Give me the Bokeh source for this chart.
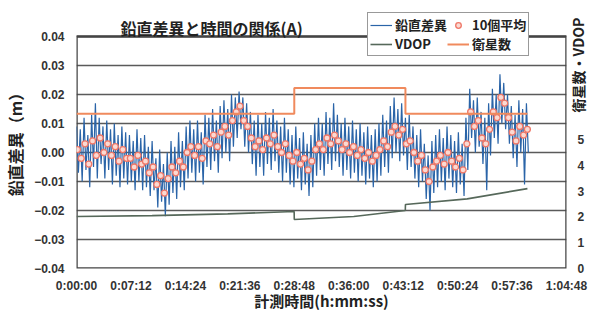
from bokeh.plotting import figure
from bokeh.models import (Range1d, LinearAxis, FixedTicker, CustomJSTickFormatter,
                          Legend, LegendItem, Label)
from bokeh.embed import file_html
from bokeh.resources import INLINE
import math

# ---------------- data ----------------
# 10-point average of vertical difference (mm), one value every 30 s
avg_step_s = 30
avg_mm = [1, -2, 3, -4, 4, -1, 5, 0, 3, -1,
          2, -3, 1, -2, -2, -5, -1, -4, -3, -7,
          -5, -11, -8, -14, -9, -5, -7, -3, -5, 0,
          2, -1, 2, -2, 4, 3, 6, 2, 7, 9,
          6, 11, 14, 16, 11, 9, 5, 2, 4, 1,
          5, 3, 6, 2, 0, 3, -1, -3, 0, -4,
          -2, -6, -3, 1, 3, 1, 5, 3, 6, 4,
          1, 3, 0, 2, -1, 1, -2, 0, -3, -1,
          1, 4, 2, 7, 9, 6, 8, 3, 4, 0,
          -3, -1, -6, -10, -5, -3, -1, -4, 0, -3,
          -5, -2, -6, 3, 14, 9, 11, 5, 3, 8,
          14, 12, 19, 17, 12, 7, 4, 9, 6, 8]

# raw vertical difference (mm), one value every 15 s
raw_step_s = 15
raw_mm = [9, -7, 8, -10, 12, -6, 6, -12, 13, -5, 17, -9, 12, -4, 9, -9, 11, -6, 8, -11,
          10, -8, 6, -12, 9, -9, 7, -11, 6, -10, 4, -13, 8, -10, 5, -13, 6, -12, 2, -15,
          4, -13, -2, -19, 1, -17, -4, -22, 0, -18, 4, -14, 2, -16, 7, -12, 4, -13, 9, -9,
          11, -7, 8, -10, 11, -7, 7, -11, 13, -5, 12, -6, 15, -3, 11, -7, 16, -2, 18, 0,
          15, -3, 20, 2, 19, 5, 21, 8, 19, 2, 17, 0, 14, -4, 11, -8, 13, -5, 10, -8,
          14, -4, 12, -6, 15, -3, 11, -7, 9, -10, 12, -7, 8, -11, 6, -12, 9, -9, 5, -13,
          7, -11, 3, -15, 6, -12, 10, -8, 12, -6, 10, -8, 14, -4, 12, -6, 17, -3, 13, -5,
          10, -8, 12, -6, 9, -9, 11, -7, 8, -10, 10, -8, 7, -11, 9, -9, 6, -12, 8, -10,
          10, -8, 13, -5, 11, -7, 16, -2, 19, 0, 15, -3, 17, -1, 12, -6, 13, -5, 9, -9,
          6, -12, 8, -10, 3, -16, -1, -20, 4, -14, 6, -12, 8, -10, 5, -13, 9, -9, 6, -12,
          4, -14, 7, -11, 3, -15, 12, -6, 22, 5, 18, 0, 19, 2, 14, -4, 12, -13, 17, -1,
          22, 5, 20, 3, 27, 10, 24, 8, 20, 3, 16, -2, 13, -5, 18, 0, 15, -11, 17, 0]

# VDOP (read points, seconds)
vdop_t = [0, 600, 1200, 1727, 1728, 2200, 2609, 2610, 3100, 3578]
vdop = [2.02, 2.05, 2.12, 2.21, 1.90, 2.02, 2.25, 2.48, 2.70, 3.10]

# number of satellites (step changes, seconds)
sat_t = [0, 1728, 2610, 3578]
sats = [6, 7, 6, 6]

x_ticks = [0, 432, 864, 1296, 1728, 2160, 2592, 3024, 3456, 3888]
y_ticks = [-0.04, -0.03, -0.02, -0.01, 0.0, 0.01, 0.02, 0.03, 0.04]
right_ticks = [0, 1, 2, 3, 4, 5]

avg_t = [i * avg_step_s + avg_step_s / 4 for i in range(len(avg_mm))]
avg_m = [v / 1000 for v in avg_mm]
raw_t = [i * raw_step_s for i in range(len(raw_mm))]
raw_m = [v / 1000 for v in raw_mm]

JP = "Noto Sans CJK JP"
NUM = "Liberation Sans"

# layout: plotted box spans 232 px for -0.04..0.04; the frame reaches 24 px higher so
# the title and legend (which sit above the box) are drawn inside the canvas area
Y_LO, Y_HI = -0.04, 0.04
R_HI = 9
BOX_PX, EXTRA_PX = 232, 24
y_top = Y_HI + (Y_HI - Y_LO) * EXTRA_PX / BOX_PX
r_top = R_HI * (BOX_PX + EXTRA_PX) / BOX_PX

p = figure(width=601, height=314, output_backend="svg", toolbar_location=None,
           x_range=Range1d(0, 3888), y_range=Range1d(Y_LO, y_top),
           min_border_left=74, min_border_right=25, min_border_top=12, min_border_bottom=46)
p.extra_y_ranges = {"right": Range1d(0, r_top)}

p.background_fill_color = "white"
p.border_fill_color = "white"
p.outline_line_color = None

# axes
p.xaxis.ticker = FixedTicker(ticks=x_ticks)
p.xaxis.formatter = CustomJSTickFormatter(code="""
const h = Math.floor(tick/3600); const m = Math.floor((tick%3600)/60); const s = Math.round(tick%60);
return h + ":" + String(m).padStart(2,"0") + ":" + String(s).padStart(2,"0");
""")
p.yaxis.ticker = FixedTicker(ticks=y_ticks)
p.yaxis.bounds = (Y_LO, Y_HI)
p.yaxis.formatter = CustomJSTickFormatter(code="""
return (tick < -1e-9 ? "\u2212" : "") + Math.abs(tick).toFixed(2);
""")

rax = LinearAxis(y_range_name="right", ticker=FixedTicker(ticks=right_ticks))
p.add_layout(rax, "right")

for ax in (p.xaxis[0], p.yaxis[0], rax):
    ax.major_tick_line_color = None
    ax.minor_tick_line_color = None
    ax.axis_line_color = None
    ax.major_label_text_font = NUM
    ax.major_label_text_font_style = "bold"
    ax.major_label_text_font_size = "12px"
    ax.major_label_text_color = "#333333"
    ax.axis_label_text_font = JP
    ax.axis_label_text_font_style = "bold"
    ax.axis_label_text_font_size = "15px"
    ax.axis_label_text_color = "#222222"

p.xaxis.major_label_standoff = 4
p.xaxis.axis_label = "計測時間(h:mm:ss)"
p.xaxis.axis_label_standoff = -6
p.yaxis.major_label_standoff = 6
p.yaxis.axis_label = "鉛直差異（m）"
p.yaxis.axis_label_text_font_size = "16px"
p.yaxis.axis_label_standoff = 4
rax.major_label_standoff = 5
# two ideographic spaces lift the bottom-to-top title above the "5" tick label
rax.axis_label = "\u3000\u3000衛星数・VDOP"
rax.axis_label_text_font_size = "14px"
rax.axis_label_standoff = -9
rax.axis_label_orientation = math.pi / 2

# grid
p.xgrid.grid_line_color = None
p.ygrid.ticker = FixedTicker(ticks=y_ticks)
p.ygrid.grid_line_color = "#5a5a5a"
p.ygrid.grid_line_width = 1.4

# plot box border
p.quad(left=[0], right=[3888], bottom=[Y_LO], top=[Y_HI], fill_color=None,
       line_color="#444444", line_width=2.5)

# series
r_raw = p.line(raw_t, raw_m, line_color="#2a64a8", line_width=1.2)
r_avg = p.scatter(avg_t, avg_m, marker="circle", size=6, fill_color="#fbd9d2",
                  line_color="#ef7767", line_width=1.3)
r_vdop = p.line(vdop_t, vdop, y_range_name="right", line_color="#56685a", line_width=1.6)
r_sat = p.step(sat_t, sats, mode="after", y_range_name="right", line_color="#f08a5d",
               line_width=2)

legend = Legend(items=[LegendItem(label="鉛直差異", renderers=[r_raw]),
                       LegendItem(label="VDOP", renderers=[r_vdop]),
                       LegendItem(label="10個平均", renderers=[r_avg]),
                       LegendItem(label="衛星数", renderers=[r_sat])],
                location=(291, 212), ncols=2)
legend.border_line_color = "#333333"
legend.border_line_width = 1.5
legend.background_fill_color = "white"
legend.background_fill_alpha = 1
legend.label_text_font = JP
legend.label_text_font_style = "bold"
legend.label_text_font_size = "13px"
legend.label_text_color = "#222222"
legend.glyph_width = 22
legend.glyph_height = 14
legend.label_standoff = 3
legend.spacing = 0
legend.padding = 2
legend.margin = 0
legend.label_height = 14
p.add_layout(legend, "center")

# chart title (screen units relative to the frame)
p.add_layout(Label(x=44, y=241, x_units="screen", y_units="screen",
                   text="鉛直差異と時間の関係(A)", text_font=JP, text_font_style="bold",
                   text_font_size="16px", text_color="#222222", text_baseline="middle"))

open("out.html", "w").write(file_html(p, INLINE))
